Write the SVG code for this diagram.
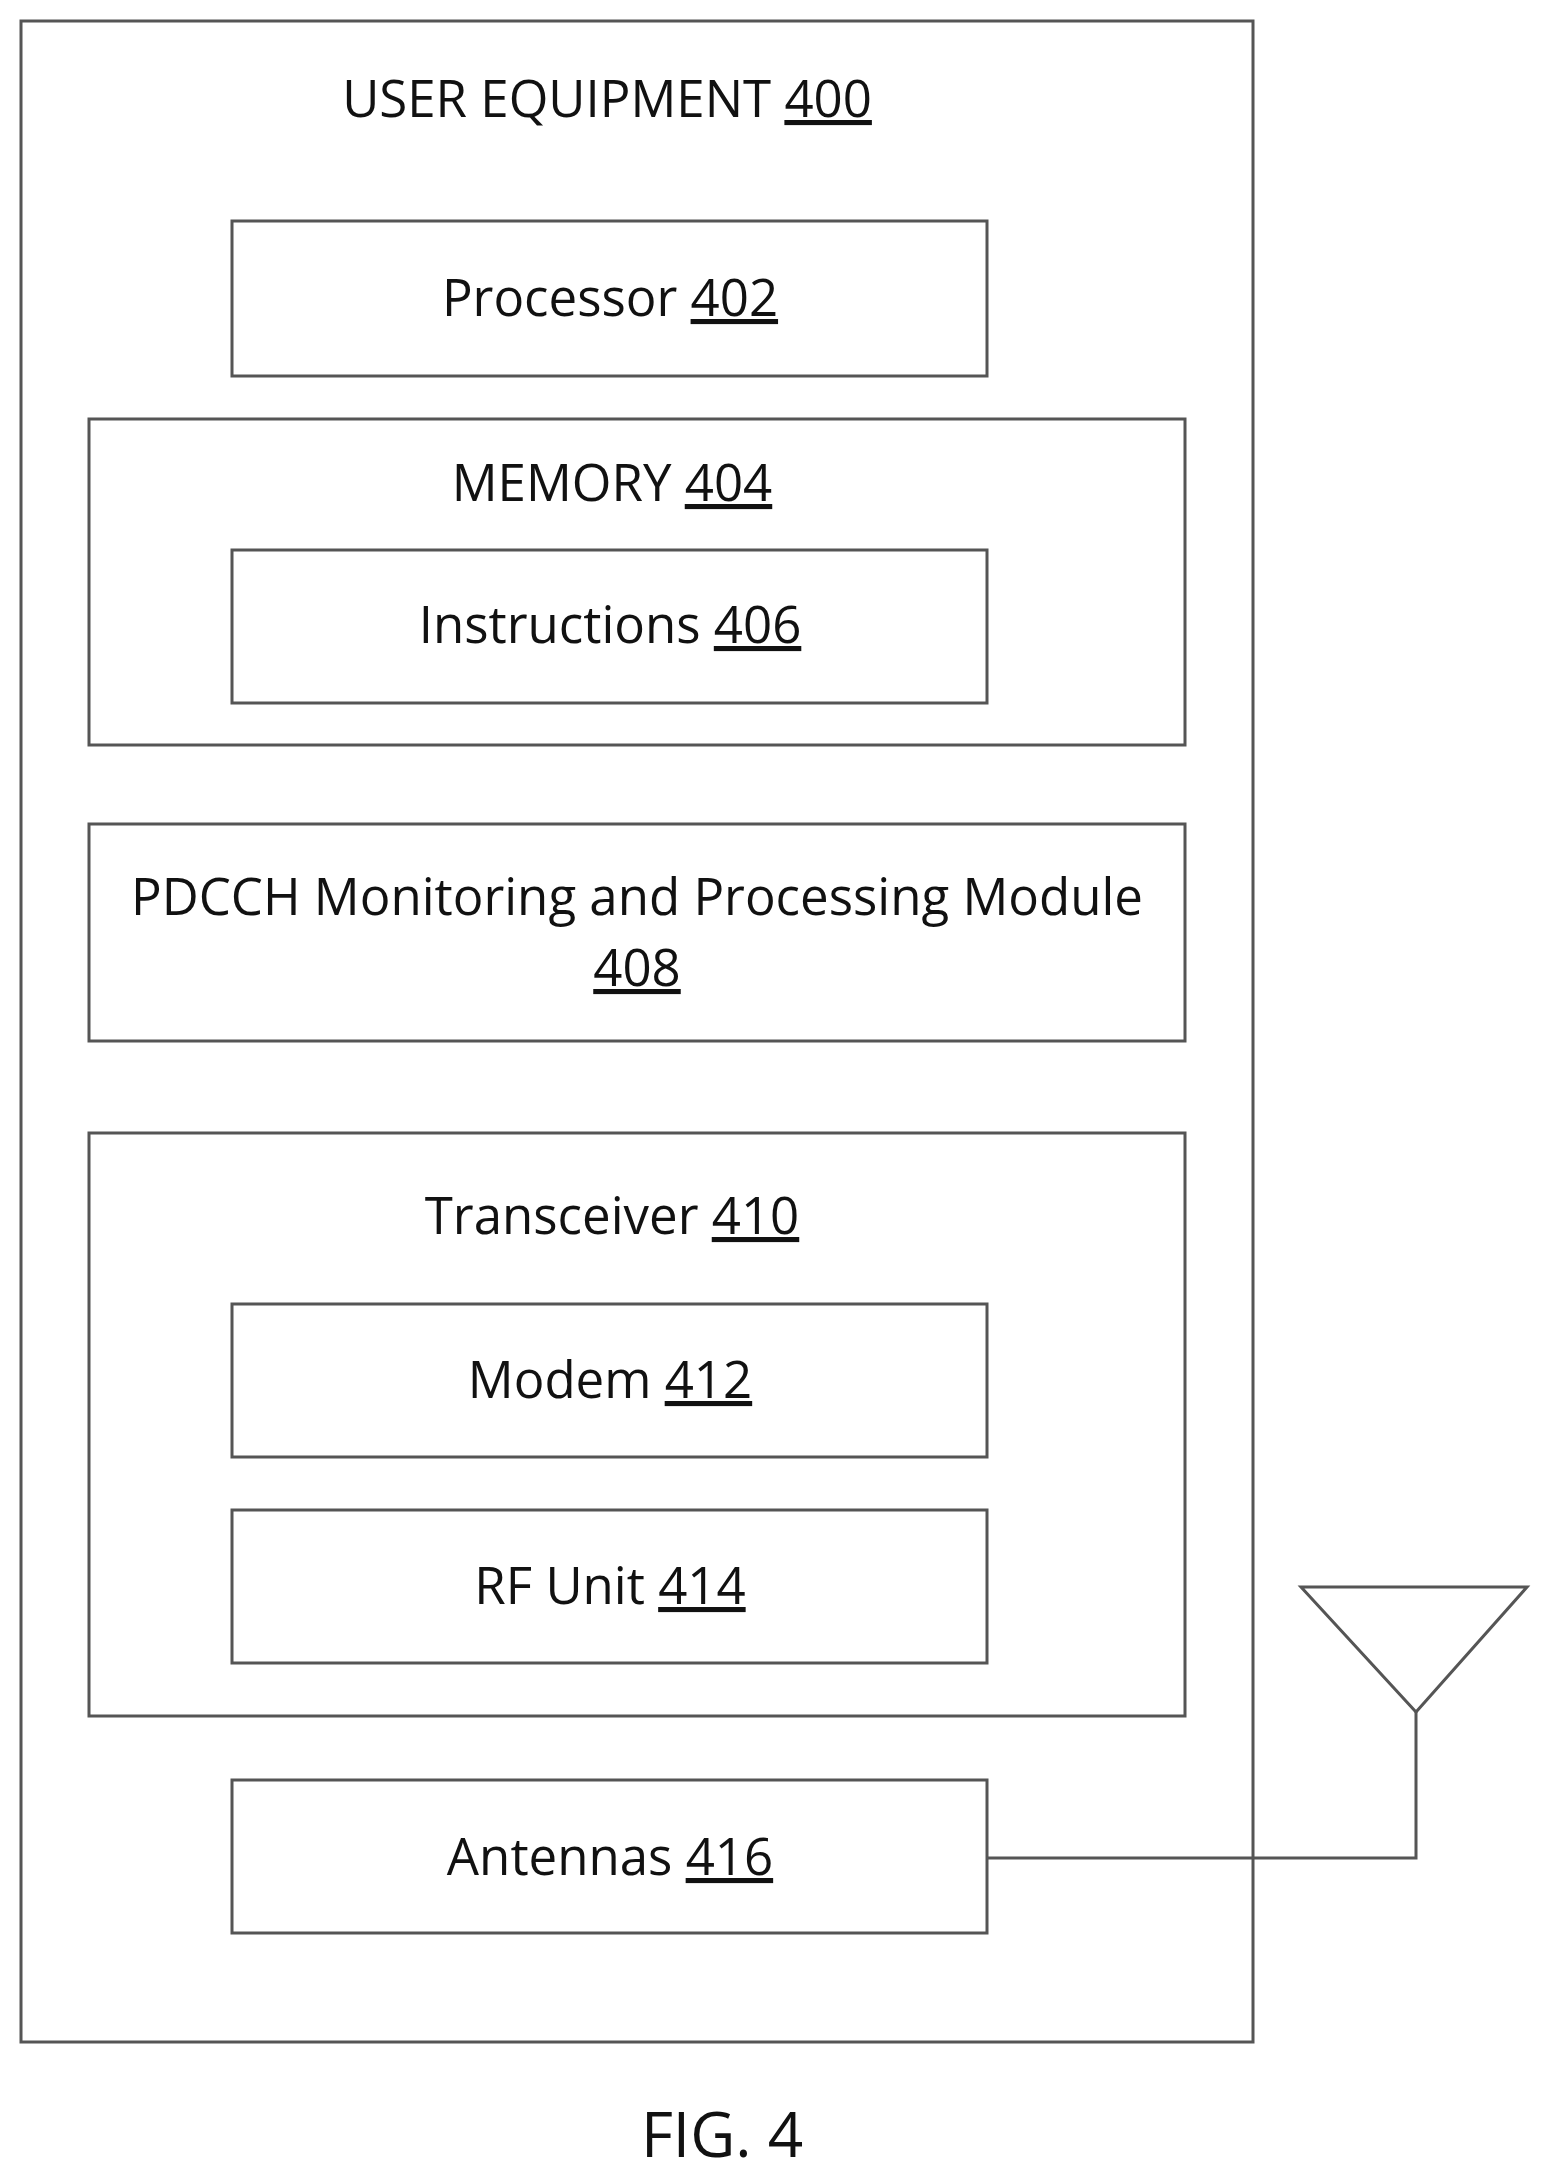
<svg xmlns="http://www.w3.org/2000/svg" width="1545" height="2177" viewBox="0 0 1545 2177">
<style>
.b{fill:none;stroke:#555;stroke-width:3}
text{font-family:"Open Sans","Liberation Sans",sans-serif;font-size:51px;fill:#111;text-anchor:middle}
.u{text-decoration:underline}
</style>
<rect width="1545" height="2177" fill="#fff"/>
<g id="ue"><rect class="b" x="21" y="21" width="1232" height="2021"/><text x="607" y="117">USER EQUIPMENT <tspan class="u">400</tspan></text></g>
<g id="processor"><rect class="b" x="232" y="221" width="755" height="155"/><text x="610" y="316">Processor <tspan class="u">402</tspan></text></g>
<g id="memory"><rect class="b" x="89" y="419" width="1096" height="326"/><text x="612" y="501">MEMORY <tspan class="u">404</tspan></text></g>
<g id="instructions"><rect class="b" x="232" y="550" width="755" height="153"/><text x="610" y="643">Instructions <tspan class="u">406</tspan></text></g>
<g id="pdcch"><rect class="b" x="89" y="824" width="1096" height="217"/><text x="637" y="915">PDCCH Monitoring and Processing Module</text><text x="637" y="986" class="u">408</text></g>
<g id="transceiver"><rect class="b" x="89" y="1133" width="1096" height="583"/><text x="612" y="1234">Transceiver <tspan class="u">410</tspan></text></g>
<g id="modem"><rect class="b" x="232" y="1304" width="755" height="153"/><text x="610" y="1398">Modem <tspan class="u">412</tspan></text></g>
<g id="rf"><rect class="b" x="232" y="1510" width="755" height="153"/><text x="610" y="1604">RF Unit <tspan class="u">414</tspan></text></g>
<g id="antennas"><rect class="b" x="232" y="1780" width="755" height="153"/><text x="610" y="1875">Antennas <tspan class="u">416</tspan></text></g>
<g id="antenna-symbol"><polygon class="b" points="1301,1587 1527,1587 1416,1712"/></g>
<g id="connectors"><polyline class="b" points="987,1858 1416,1858 1416,1712"/></g>
<text x="722" y="2157" style="font-size:62px">FIG. 4</text>
</svg>
